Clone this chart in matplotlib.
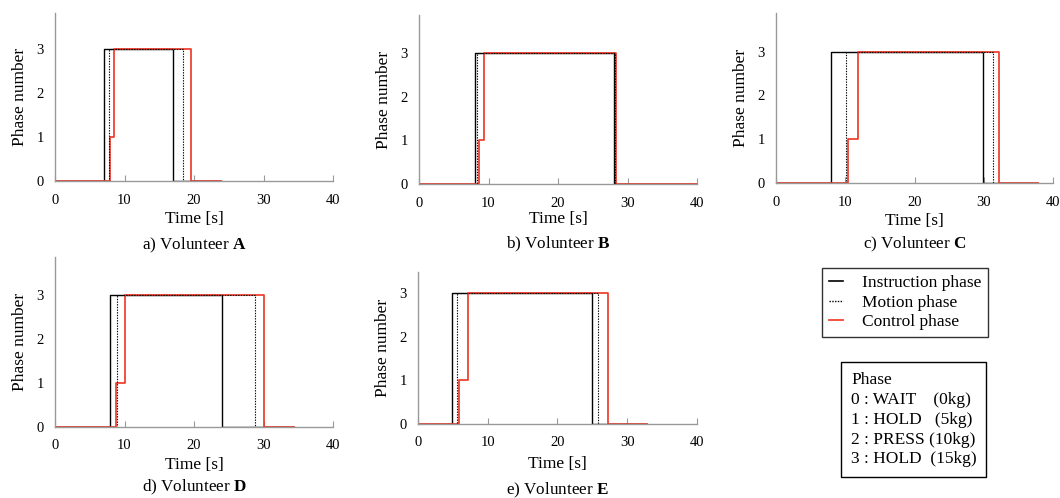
import matplotlib
matplotlib.use("Agg")
import matplotlib.pyplot as plt
from matplotlib.lines import Line2D

plt.rcParams['font.family'] = ['Liberation Serif', 'DejaVu Serif']
plt.rcParams['mathtext.fontset'] = 'custom'
plt.rcParams['mathtext.rm'] = 'Liberation Serif'
plt.rcParams['mathtext.bf'] = 'Liberation Serif:bold'

# step times [s] for each volunteer: (time, phase) pairs
inst_A = ([0, 7.1, 17.0], [0, 3, 0]);   mot_A = ([0, 7.7, 18.35], [0, 3, 0]);   ctl_A = ([0, 7.85, 8.55, 19.55], [0, 1, 3, 0]);  end_A = 23.9
inst_B = ([0, 8.0, 28.05], [0, 3, 0]);  mot_B = ([0, 8.4, 28.2], [0, 3, 0]);    ctl_B = ([0, 8.65, 9.4, 28.4], [0, 1, 3, 0]);    end_B = 40.0
inst_C = ([0, 8.0, 29.95], [0, 3, 0]);  mot_C = ([0, 10.05, 31.35], [0, 3, 0]); ctl_C = ([0, 10.35, 11.9, 32.15], [0, 1, 3, 0]); end_C = 37.9
inst_D = ([0, 7.95, 24.05], [0, 3, 0]); mot_D = ([0, 8.9, 28.75], [0, 3, 0]);   ctl_D = ([0, 8.8, 10.05, 30.1], [0, 1, 3, 0]);   end_D = 34.4
inst_E = ([0, 4.95, 24.95], [0, 3, 0]); mot_E = ([0, 5.6, 25.85], [0, 3, 0]);   ctl_E = ([0, 5.95, 7.2, 27.2], [0, 1, 3, 0]);    end_E = 32.8

names = ['A', 'B', 'C', 'D', 'E']
letters = ['a', 'b', 'c', 'd', 'e']
insts = [inst_A, inst_B, inst_C, inst_D, inst_E]
mots = [mot_A, mot_B, mot_C, mot_D, mot_E]
ctls = [ctl_A, ctl_B, ctl_C, ctl_D, ctl_E]
ends = [end_A, end_B, end_C, end_D, end_E]
ytops = [3.82, 3.87, 3.88, 3.86, 3.48]

# axes rectangles [left, bottom, width, height] in figure fraction
rects = [[0.0519, 0.6365, 0.2623, 0.3373],
         [0.3953, 0.6305, 0.2623, 0.3394],
         [0.7321, 0.6325, 0.2613, 0.3414],
         [0.0519, 0.1426, 0.2623, 0.3413],
         [0.3943, 0.1486, 0.2632, 0.3052]]
# caption centre heights (pixels from top)
cap_y = [245, 244, 244, 487, 490]
xlab_pad = [3, 1, 3, 3, 5]

red = '#ee3322'
spine_c = '#999999'

def step_xy(tr, end):
    t, v = tr
    return list(t) + [end], list(v) + [v[-1]]

fig = plt.figure(figsize=(10.6, 4.98), dpi=100)

for i in range(5):
    ax = fig.add_axes(rects[i])
    x, y = step_xy(insts[i], ends[i])
    ax.step(x, y, where='post', color='black', lw=1.0)
    x, y = step_xy(ctls[i], ends[i])
    ax.step(x, y, where='post', color=red, lw=1.2)
    x, y = step_xy(mots[i], ends[i])
    ax.step(x, y, where='post', color='black', lw=0.8, linestyle=(0, (1.2, 1.2)))
    ax.set_xlim(0, 40)
    ax.set_ylim(0, ytops[i])
    ax.set_xticks([0, 10, 20, 30, 40])
    ax.set_yticks([0, 1, 2, 3])
    for s in ['top', 'right']:
        ax.spines[s].set_visible(False)
    for s in ['left', 'bottom']:
        ax.spines[s].set_color(spine_c)
        ax.spines[s].set_linewidth(1.0)
    ax.tick_params(axis='x', direction='in', length=4, color=spine_c, labelsize=10.5, pad=9)
    ax.tick_params(axis='y', length=0, labelsize=10.5, pad=8)
    ax.set_xlabel('Time [s]', fontsize=12.5, labelpad=xlab_pad[i])
    ax.set_ylabel('Phase number', fontsize=12.5, labelpad=6)
    r = rects[i]
    fig.text(r[0] + r[2] / 2, 1 - cap_y[i] / 498,
             letters[i] + r') Volunteer $\mathbf{' + names[i] + '}$',
             ha='center', va='center', fontsize=12.3)

handles = [Line2D([], [], color='black', lw=1.2),
           Line2D([], [], color='black', lw=1.0, linestyle=(0, (1, 1))),
           Line2D([], [], color=red, lw=1.2)]
leg = fig.legend(handles, ['Instruction phase', 'Motion phase', 'Control phase'],
                 loc='upper left', bbox_to_anchor=(822 / 1060, 1 - 268 / 498),
                 fontsize=12.5, frameon=True, fancybox=False, edgecolor='black',
                 handlelength=0.8, handletextpad=1.1, labelspacing=0.2,
                 borderpad=0.4, borderaxespad=0)
leg.get_frame().set_linewidth(1.0)

phase_txt = 'Phase\n0 : WAIT    (0kg)\n1 : HOLD   (5kg)\n2 : PRESS (10kg)\n3 : HOLD  (15kg)'
fig.text(851 / 1060, 1 - 372 / 498, phase_txt, ha='left', va='top', fontsize=12.5,
         linespacing=1.32,
         bbox=dict(boxstyle='square,pad=0.55', facecolor='white', edgecolor='black', lw=1.0))

fig.savefig('out.png', dpi=100)
